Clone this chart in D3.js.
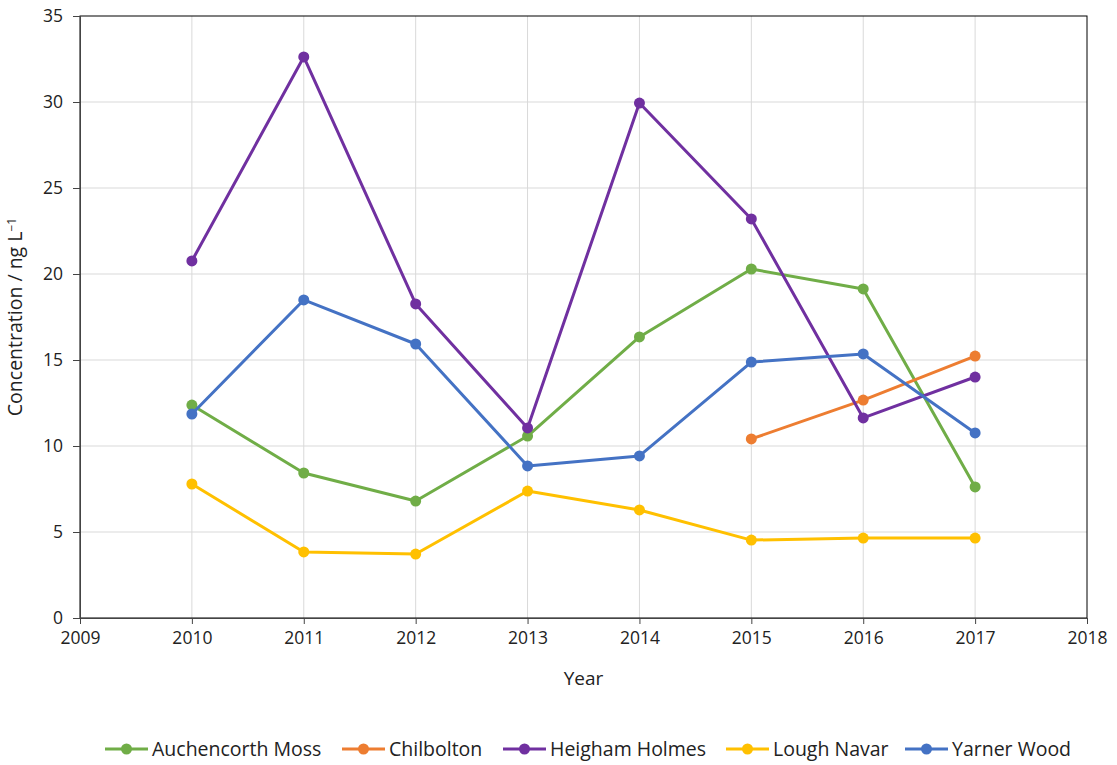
<!DOCTYPE html>
<html>
<head>
<meta charset="utf-8">
<script src="https://cdn.jsdelivr.net/npm/d3@7"></script>
<style>
  body { margin: 0; background: #fff; }
  svg text { font-family: "Open Sans", "Noto Sans", sans-serif; fill: #222; }
</style>
</head>
<body>
<div id="chart"></div>
<script>
var years = [2010, 2011, 2012, 2013, 2014, 2015, 2016, 2017];
var chilboltonYears = [2015, 2016, 2017];

var auchencorthMoss = [12.38, 8.43, 6.80, 10.58, 16.34, 20.29, 19.13, 7.62];
var chilbolton = [10.41, 12.67, 15.23];
var heighamHolmes = [20.76, 32.62, 18.26, 11.05, 29.94, 23.20, 11.63, 14.01];
var loughNavar = [7.79, 3.84, 3.72, 7.38, 6.28, 4.53, 4.65, 4.65];
var yarnerWood = [11.86, 18.49, 15.93, 8.84, 9.42, 14.88, 15.35, 10.76];

var xTicks = [2009, 2010, 2011, 2012, 2013, 2014, 2015, 2016, 2017, 2018];
var yTicks = [0, 5, 10, 15, 20, 25, 30, 35];

var seriesNames = ["Auchencorth Moss", "Chilbolton", "Heigham Holmes", "Lough Navar", "Yarner Wood"];
var seriesColors = ["#70ad47", "#ed7d31", "#7030a0", "#ffc000", "#4472c4"];

var svgWidth = 1117;
var svgHeight = 765;
var margin = { top: 16, right: 30, bottom: 147, left: 80 };
var width = svgWidth - margin.left - margin.right;
var height = svgHeight - margin.top - margin.bottom;

var svg = d3.select("#chart")
  .append("svg")
  .attr("width", svgWidth)
  .attr("height", svgHeight);

var chartGroup = svg.append("g")
  .attr("transform", `translate(${margin.left}, ${margin.top})`);

var x = d3.scaleLinear().domain([2009, 2018]).range([0, width]);
var y = d3.scaleLinear().domain([0, 35]).range([height, 0]);

// gridlines
chartGroup.append("g").selectAll("line.vg")
  .data(xTicks.slice(1, -1))
  .enter().append("line")
  .attr("x1", d => x(d)).attr("x2", d => x(d))
  .attr("y1", 0).attr("y2", height)
  .attr("stroke", "#d9d9d9").attr("stroke-width", 1);

chartGroup.append("g").selectAll("line.hg")
  .data(yTicks.slice(1, -1))
  .enter().append("line")
  .attr("x1", 0).attr("x2", width)
  .attr("y1", d => y(d)).attr("y2", d => y(d))
  .attr("stroke", "#d9d9d9").attr("stroke-width", 1);

// frame
chartGroup.append("rect")
  .attr("width", width).attr("height", height)
  .attr("fill", "none").attr("stroke", "#000").attr("stroke-width", 1);

// axes
var bottomAxis = d3.axisBottom(x).tickValues(xTicks).tickFormat(d3.format("d")).tickSizeOuter(0).tickSize(6).tickPadding(8);
var leftAxis = d3.axisLeft(y).tickValues(yTicks).tickSizeOuter(0).tickSize(7).tickPadding(10);

var xAxis = chartGroup.append("g")
  .attr("transform", `translate(0, ${height})`)
  .call(bottomAxis);
var yAxis = chartGroup.append("g").call(leftAxis);

[xAxis, yAxis].forEach(function(a) {
  a.selectAll("path").attr("stroke", "#444");
  a.selectAll("line").attr("stroke", "#444");
  a.selectAll("text").style("font-size", "17.5px").attr("fill", "#222");
});

// axis titles
chartGroup.append("text")
  .attr("x", width / 2)
  .attr("y", height + 67)
  .attr("text-anchor", "middle")
  .style("font-size", "19px")
  .text("Year");

var yTitle = chartGroup.append("text")
  .attr("transform", "rotate(-90)")
  .attr("x", -height / 2)
  .attr("y", -58)
  .attr("text-anchor", "middle")
  .style("font-size", "19.5px");
yTitle.append("tspan").text("Concentration / ng L");
yTitle.append("tspan").attr("dy", "-0.5em").style("font-size", "12px").text("\u22121");

// series
var seriesData = [
  { xs: years, ys: auchencorthMoss },
  { xs: chilboltonYears, ys: chilbolton },
  { xs: years, ys: heighamHolmes },
  { xs: years, ys: loughNavar },
  { xs: years, ys: yarnerWood }
];

var line = d3.line().x(d => x(d[0])).y(d => y(d[1]));

seriesData.forEach(function(s, i) {
  var pts = s.xs.map((yr, j) => [yr, s.ys[j]]);
  var g = chartGroup.append("g");
  g.append("path")
    .datum(pts)
    .attr("d", line)
    .attr("fill", "none")
    .attr("stroke", seriesColors[i])
    .attr("stroke-width", 3)
    .attr("stroke-linejoin", "round");
  g.selectAll("circle")
    .data(pts)
    .enter().append("circle")
    .attr("cx", d => x(d[0]))
    .attr("cy", d => y(d[1]))
    .attr("r", 5.5)
    .attr("fill", seriesColors[i]);
});

// legend
var legendX = [105, 342, 503, 726, 905];
var legend = svg.append("g").attr("transform", "translate(0, 749)");
seriesNames.forEach(function(name, i) {
  var item = legend.append("g").attr("transform", `translate(${legendX[i]}, 0)`);
  item.append("line")
    .attr("x1", 0).attr("x2", 43)
    .attr("stroke", seriesColors[i]).attr("stroke-width", 3);
  item.append("circle").attr("cx", 21.5).attr("r", 5.5).attr("fill", seriesColors[i]);
  item.append("text")
    .attr("x", 47).attr("y", 7)
    .style("font-size", "19.5px")
    .text(name);
});
</script>
</body>
</html>
